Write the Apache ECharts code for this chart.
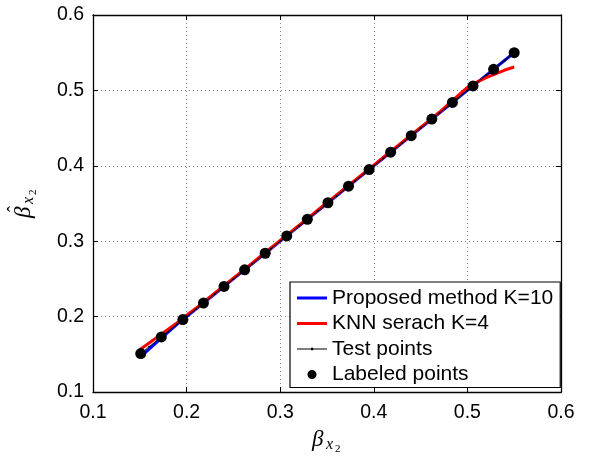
<!DOCTYPE html>
<html><head><meta charset="utf-8">
<script src="https://cdn.jsdelivr.net/npm/echarts@6/dist/echarts.min.js"></script>
<style>html,body{margin:0;padding:0;background:#fff}#c{width:591px;height:458px}</style>
</head><body><div id="c"></div>
<script>
var testX = [0.15,0.16,0.17,0.18,0.19,0.20,0.21,0.22,0.23,0.24,0.25,0.26,0.27,0.28,0.29,0.30,0.31,0.32,0.33,0.34,0.35,0.36,0.37,0.38,0.39,0.40,0.41,0.42,0.43,0.44,0.45,0.46,0.47,0.48,0.49,0.50,0.51,0.52,0.53,0.54,0.55];
var testY = [0.15,0.16,0.17,0.18,0.19,0.20,0.21,0.22,0.23,0.24,0.25,0.26,0.27,0.28,0.29,0.30,0.31,0.32,0.33,0.34,0.35,0.36,0.37,0.38,0.39,0.40,0.41,0.42,0.43,0.44,0.45,0.46,0.47,0.48,0.49,0.50,0.51,0.52,0.53,0.54,0.55];
var proposedY = [0.146,0.157,0.168,0.179,0.190,0.200,0.210,0.220,0.230,0.240,0.250,0.260,0.270,0.280,0.290,0.300,0.310,0.320,0.330,0.340,0.350,0.360,0.370,0.380,0.390,0.400,0.410,0.420,0.430,0.440,0.450,0.460,0.470,0.480,0.490,0.500,0.510,0.520,0.530,0.540,0.550];
var knnY = [0.156,0.165,0.174,0.183,0.192,0.202,0.211,0.221,0.231,0.241,0.251,0.261,0.271,0.281,0.291,0.301,0.311,0.321,0.331,0.341,0.351,0.361,0.371,0.381,0.391,0.401,0.411,0.421,0.431,0.441,0.451,0.461,0.471,0.482,0.493,0.504,0.511,0.517,0.522,0.527,0.531];
var labeledX = [0.151,0.173,0.196,0.218,0.240,0.262,0.284,0.307,0.329,0.351,0.373,0.395,0.418,0.440,0.462,0.484,0.506,0.528,0.550];
var labeledY = [0.151,0.173,0.196,0.218,0.240,0.262,0.284,0.307,0.329,0.351,0.373,0.395,0.418,0.440,0.462,0.484,0.506,0.528,0.550];
var xTicks = [0.1,0.2,0.3,0.4,0.5,0.6];
var yTicks = [0.1,0.2,0.3,0.4,0.5,0.6];
var seriesNames = ['Proposed method K=10','KNN serach K=4','Test points','Labeled points'];
var xLabelParts = ['β','x','2'];
var yLabelParts = ['β','x','2','ˆ'];

function pairs(xs, ys){ return xs.map(function(x,i){ return [x, ys[i]]; }); }
function fmt(v){ return v.toFixed(1); }

var chart = echarts.init(document.getElementById('c'));
var tickFont = {color:'#000', fontSize:19.5, fontFamily:'Liberation Sans, Arial, sans-serif'};
var gridLine = {show:true, lineStyle:{color:'#8a8a8a', type:[1,3], width:1}};
// legend icon paths (tiny corner marks keep the 30x12 box so the icon isn't rescaled)
var box = 'M0,0L0.01,0L0.01,0.01Z M29.99,11.99L30,11.99L30,12Z ';
var iconThick = 'path://' + box + 'M0,4.5L30,4.5L30,7.5L0,7.5Z';
var iconThin = 'path://' + box + 'M0,5.4L30,5.4L30,6.6L0,6.6Z M14,4.8L16.2,4.8L16.2,7.2L14,7.2Z';
var iconDot = 'path://' + box + 'M15,1.5A4.5,4.5,0,1,1,14.99,1.5Z';

var serifI = function(sz){ return 'italic ' + sz + 'px "Liberation Serif", "DejaVu Serif", serif'; };
var serif = function(sz){ return sz + 'px "Liberation Serif", "DejaVu Serif", serif'; };

chart.setOption({
  animation:false,
  backgroundColor:'#fff',
  grid:{left:93, top:15, right:30, bottom:66, containLabel:false},
  xAxis:[{
    type:'value', min:xTicks[0], max:xTicks[xTicks.length-1], interval:0.1,
    axisLine:{show:true, onZero:false, lineStyle:{color:'#000', width:1.3}},
    axisTick:{show:true, inside:true, length:5, lineStyle:{color:'#000'}},
    axisLabel:{formatter:fmt, margin:11, ...tickFont},
    splitLine:gridLine
  },{
    type:'value', position:'top', min:xTicks[0], max:xTicks[xTicks.length-1], interval:0.1,
    axisLine:{show:true, onZero:false, lineStyle:{color:'#000', width:1.3}},
    axisTick:{show:true, inside:true, length:5, lineStyle:{color:'#000'}},
    axisLabel:{show:false}, splitLine:{show:false}
  }],
  yAxis:[{
    type:'value', min:yTicks[0], max:yTicks[yTicks.length-1], interval:0.1,
    axisLine:{show:true, onZero:false, lineStyle:{color:'#000', width:1.3}},
    axisTick:{show:true, inside:true, length:5, lineStyle:{color:'#000'}},
    axisLabel:{formatter:fmt, margin:9, ...tickFont},
    splitLine:gridLine
  },{
    type:'value', position:'right', min:yTicks[0], max:yTicks[yTicks.length-1], interval:0.1,
    axisLine:{show:true, onZero:false, lineStyle:{color:'#000', width:1.3}},
    axisTick:{show:true, inside:true, length:5, lineStyle:{color:'#000'}},
    axisLabel:{show:false}, splitLine:{show:false}
  }],
  legend:{
    show:true, orient:'vertical', left:290, top:282,
    backgroundColor:'#fff', borderColor:'#000', borderWidth:1.2, borderRadius:0,
    padding:[5,7,2,7], itemWidth:30, itemHeight:12, itemGap:3.5,
    textStyle:{color:'#000', fontSize:21, lineHeight:22, fontFamily:'Liberation Sans, Arial, sans-serif'},
    data:[
      {name:seriesNames[0], icon:iconThick},
      {name:seriesNames[1], icon:iconThick},
      {name:seriesNames[2], icon:iconThin},
      {name:seriesNames[3], icon:iconDot}
    ]
  },
  graphic:[
    {type:'group', x:312, y:0, children:[
      {type:'text', x:0, y:440, style:{text:xLabelParts[0], font:serifI(23), fill:'#000', textAlign:'left', textVerticalAlign:'middle'}},
      {type:'text', x:14, y:445, style:{text:xLabelParts[1], font:serifI(16), fill:'#000', textAlign:'left', textVerticalAlign:'middle'}},
      {type:'text', x:23, y:449, style:{text:xLabelParts[2], font:serif(11), fill:'#000', textAlign:'left', textVerticalAlign:'middle'}}
    ]},
    {type:'group', x:24, y:218, rotation:Math.PI/2, children:[
      {type:'text', x:0, y:0, style:{text:yLabelParts[0], font:serifI(23), fill:'#000', textAlign:'left', textVerticalAlign:'middle'}},
      {type:'text', x:14, y:5, style:{text:yLabelParts[1], font:serifI(16), fill:'#000', textAlign:'left', textVerticalAlign:'middle'}},
      {type:'text', x:23, y:9, style:{text:yLabelParts[2], font:serif(11), fill:'#000', textAlign:'left', textVerticalAlign:'middle'}},
      {type:'text', x:9, y:-9, style:{text:yLabelParts[3], font:serif(18), fill:'#000', textAlign:'center', textVerticalAlign:'middle'}}
    ]}
  ],
  series:[
    {name:seriesNames[0], type:'line', data:pairs(testX, proposedY), symbol:'none', lineStyle:{color:'#0000ff', width:3}, itemStyle:{color:'#0000ff'}, z:2},
    {name:seriesNames[1], type:'line', data:pairs(testX, knnY), symbol:'none', lineStyle:{color:'#ff0000', width:3}, itemStyle:{color:'#ff0000'}, z:3},
    {name:seriesNames[2], type:'line', data:pairs(testX, testY), symbol:'circle', symbolSize:2, showSymbol:true, lineStyle:{color:'#000', width:1}, itemStyle:{color:'#000'}, z:4},
    {name:seriesNames[3], type:'scatter', data:pairs(labeledX, labeledY), symbol:'circle', symbolSize:11, itemStyle:{color:'#000', opacity:1}, z:5}
  ]
});
</script></body></html>
